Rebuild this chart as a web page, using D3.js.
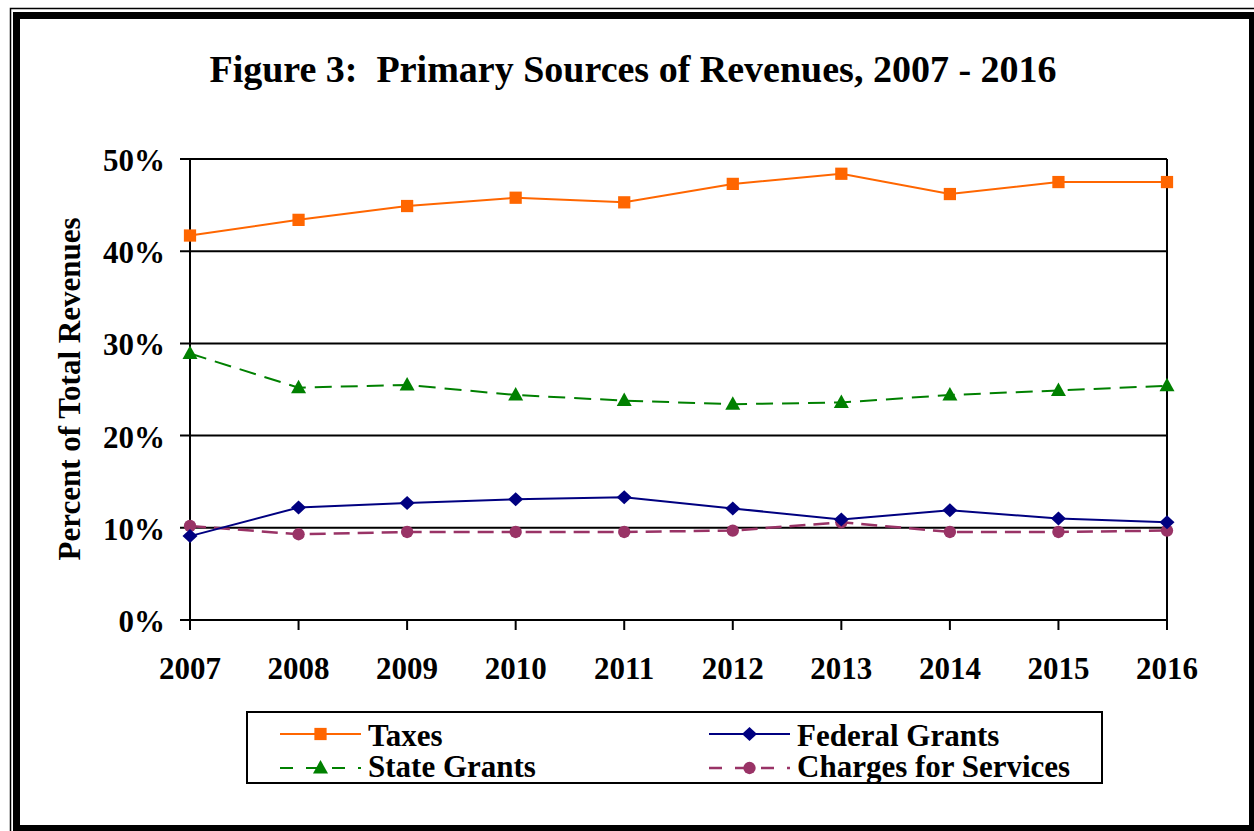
<!DOCTYPE html>
<html>
<head>
<meta charset="utf-8">
<script src="https://cdn.jsdelivr.net/npm/d3@7"></script>
<style>
  body { margin: 0; background: #fff; }
  svg { display: block; font-family: "Liberation Serif", "Times New Roman", serif; font-weight: bold; }
</style>
</head>
<body>
<div id="chart"></div>
<script>
// data
var years = [2007, 2008, 2009, 2010, 2011, 2012, 2013, 2014, 2015, 2016];
var taxes = [41.7, 43.4, 44.9, 45.8, 45.3, 47.3, 48.4, 46.2, 47.5, 47.5];
var stateGrants = [28.9, 25.2, 25.5, 24.4, 23.8, 23.4, 23.6, 24.4, 24.9, 25.4];
var federalGrants = [9.1, 12.2, 12.7, 13.1, 13.3, 12.1, 10.9, 11.9, 11.0, 10.6];
var charges = [10.2, 9.3, 9.55, 9.55, 9.55, 9.7, 10.6, 9.55, 9.55, 9.7];
var yTicks = [0, 10, 20, 30, 40, 50];

var w = 1254, h = 831;

var svg = d3.select("#chart").append("svg")
   .attr("width", w)
   .attr("height", h);

svg.append("rect").attr("width", w).attr("height", h).attr("fill", "#fff");

// frame: thin outer line + thick black border
svg.append("rect")
   .attr("x", 10.5).attr("y", 8.5)
   .attr("width", 1260).attr("height", 840)
   .attr("fill", "none").attr("stroke", "#000").attr("stroke-width", 1.5);
svg.append("rect")
   .attr("x", 16.5).attr("y", 15.5)
   .attr("width", 1236).attr("height", 813)
   .attr("fill", "none").attr("stroke", "#000").attr("stroke-width", 7);

var xScale = d3.scalePoint()
   .domain(years)
   .range([190, 1167]);

var yScale = d3.scaleLinear()
   .domain([0, 50])
   .range([620, 159]);

//Title
svg.append("text")
   .attr("x", 633).attr("y", 82)
   .attr("text-anchor", "middle")
   .attr("font-size", 38)
   .attr("xml:space", "preserve")
   .text("Figure 3:  Primary Sources of Revenues, 2007 - 2016");

//gridlines + y ticks
svg.selectAll(".grid")
   .data(yTicks)
   .enter()
   .append("line")
   .attr("x1", 180)
   .attr("x2", xScale.range()[1])
   .attr("y1", function(d) { return yScale(d); })
   .attr("y2", function(d) { return yScale(d); })
   .attr("stroke", "#000")
   .attr("stroke-width", 2);

svg.selectAll(".ylab")
   .data(yTicks)
   .enter()
   .append("text")
   .attr("x", 165)
   .attr("y", function(d) { return yScale(d) + 12; })
   .attr("text-anchor", "end")
   .attr("font-size", 31)
   .text(function(d) { return d + "%"; });

// left and right axis lines
svg.append("line")
   .attr("x1", 190).attr("x2", 190)
   .attr("y1", yScale(50)).attr("y2", yScale(0))
   .attr("stroke", "#000").attr("stroke-width", 2);
svg.append("line")
   .attr("x1", 1167).attr("x2", 1167)
   .attr("y1", yScale(50)).attr("y2", yScale(0))
   .attr("stroke", "#000").attr("stroke-width", 2);

// x ticks + labels
svg.selectAll(".xtick")
   .data(years)
   .enter()
   .append("line")
   .attr("x1", function(d) { return xScale(d); })
   .attr("x2", function(d) { return xScale(d); })
   .attr("y1", yScale(0))
   .attr("y2", yScale(0) + 10)
   .attr("stroke", "#000").attr("stroke-width", 2);

svg.selectAll(".xlab")
   .data(years)
   .enter()
   .append("text")
   .attr("x", function(d) { return xScale(d); })
   .attr("y", 679)
   .attr("text-anchor", "middle")
   .attr("font-size", 31)
   .text(function(d) { return d; });

// y axis title
svg.append("text")
   .attr("transform", "translate(80,389) rotate(-90)")
   .attr("text-anchor", "middle")
   .attr("font-size", 31)
   .text("Percent of Total Revenues");

// marker shapes
function markerPath(type) {
   if (type == "square") return d3.symbol().type(d3.symbolSquare).size(150)();
   if (type == "triangle") return "M0,-8L7.5,5.5L-7.5,5.5Z";
   if (type == "diamond") return "M0,-7L7.5,0L0,7L-7.5,0Z";
   return d3.symbol().type(d3.symbolCircle).size(120)();
}

var series = [
   {name: "Taxes", values: taxes, color: "#FF6600", dash: null, marker: "square", width: 2},
   {name: "Federal Grants", values: federalGrants, color: "#000080", dash: null, marker: "diamond", width: 2},
   {name: "State Grants", values: stateGrants, color: "#008000", dash: "17,9", marker: "triangle", width: 2},
   {name: "Charges for Services", values: charges, color: "#993366", dash: "16,8", marker: "circle", width: 2.5}
];

var line = d3.line()
   .x(function(d, i) { return xScale(years[i]); })
   .y(function(d) { return yScale(d); });

// draw in back-to-front order
var order = [series[3], series[2], series[1], series[0]];
order.forEach(function(s) {
   svg.append("path")
      .attr("d", line(s.values))
      .attr("fill", "none")
      .attr("stroke", s.color)
      .attr("stroke-width", s.width)
      .attr("stroke-dasharray", s.dash);
   svg.selectAll(null)
      .data(s.values)
      .enter()
      .append("path")
      .attr("d", markerPath(s.marker))
      .attr("transform", function(d, i) {
         return "translate(" + xScale(years[i]) + "," + yScale(d) + ")";
      })
      .attr("fill", s.color);
});

//Legend
svg.append("rect")
   .attr("x", 247).attr("y", 712)
   .attr("width", 855).attr("height", 71)
   .attr("fill", "#fff").attr("stroke", "#000").attr("stroke-width", 2);

var legendPos = [
   {x: 280, y: 734, ty: 746},   // Taxes
   {x: 709, y: 734, ty: 746},   // Federal Grants
   {x: 280, y: 768, ty: 777},   // State Grants
   {x: 709, y: 768, ty: 777}    // Charges
];

series.forEach(function(s, i) {
   var p = legendPos[i];
   var g = svg.append("g");
   g.append("line")
      .attr("x1", p.x).attr("x2", p.x + 81)
      .attr("y1", p.y).attr("y2", p.y)
      .attr("stroke", s.color)
      .attr("stroke-width", s.width)
      .attr("stroke-dasharray", s.dash ? "13,13" : null);
   g.append("path")
      .attr("d", markerPath(s.marker))
      .attr("transform", "translate(" + (p.x + 40.5) + "," + p.y + ")")
      .attr("fill", s.color);
   g.append("text")
      .attr("x", p.x + 88)
      .attr("y", p.ty)
      .attr("font-size", 31)
      .text(s.name);
});
</script>
</body>
</html>
